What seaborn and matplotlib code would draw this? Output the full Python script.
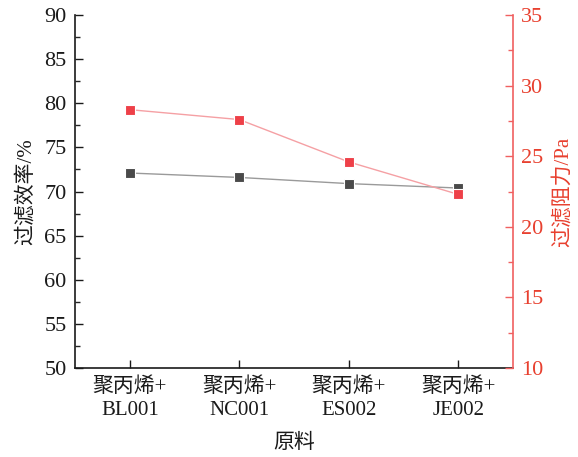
import matplotlib
matplotlib.use("Agg")
import matplotlib.pyplot as plt
from matplotlib.ticker import MultipleLocator
import seaborn as sns
import pandas as pd

# Filter materials and measured performance
materials = ["聚丙烯+\nBL001", "聚丙烯+\nNC001", "聚丙烯+\nES002", "聚丙烯+\nJE002"]
efficiency = [72.1, 71.6, 70.9, 70.4]      # 过滤效率 / %
resistance = [28.3, 27.6, 24.6, 22.3]      # 过滤阻力 / Pa

sns.set_style("ticks")
plt.rcParams["font.family"] = ["Liberation Serif", "Noto Sans CJK SC"]
plt.rcParams["axes.unicode_minus"] = False

df = pd.DataFrame({"原料": materials, "效率": efficiency, "阻力": resistance,
                   "pos": range(len(materials))})

fig = plt.figure(figsize=(5.78, 4.57), dpi=100)
ax = fig.add_axes([0.1298, 0.1947, 0.7577, 0.7723])
ax2 = ax.twinx()

dark = "#4a4a4a"
red = "#ee4048"

sns.lineplot(data=df, x="pos", y="效率", ax=ax, color="#9a9a9a", lw=1.0,
             marker="s", markersize=6.5, markerfacecolor=dark,
             markeredgecolor="white", markeredgewidth=0.8)
sns.lineplot(data=df, x="pos", y="阻力", ax=ax2, color="#f5a0a4", lw=1.0,
             marker="s", markersize=6.5, markerfacecolor=red,
             markeredgecolor="white", markeredgewidth=0.8)

ax.set_xlim(-0.5, 3.5)
ax.set_ylim(50, 90)
ax2.set_ylim(10, 35)

ax.set_xticks(df["pos"])
ax.set_xticklabels(materials, fontsize=15, linespacing=1.25)
ax.yaxis.set_major_locator(MultipleLocator(5))
ax.yaxis.set_minor_locator(MultipleLocator(2.5))
ax2.yaxis.set_major_locator(MultipleLocator(5))
ax2.yaxis.set_minor_locator(MultipleLocator(2.5))

ax.tick_params(axis="both", which="major", direction="in", length=6,
               width=1, labelsize=16, colors="#1a1a1a", pad=6)
ax.tick_params(axis="y", which="minor", direction="in", length=3.5, width=1)
ax.tick_params(axis="x", which="major", pad=7, labelsize=15)
ax2.tick_params(axis="y", which="major", direction="in", length=6, width=1,
                labelsize=16, colors="#f06060", labelcolor="#e8402f", pad=6)
ax2.tick_params(axis="y", which="minor", direction="in", length=3.5, width=1,
                colors="#f06060")

ax.set_xlabel("原料", fontsize=15, labelpad=10, color="#1a1a1a")
ax.set_ylabel("过滤效率/%", fontsize=15, labelpad=6, color="#1a1a1a")
ax2.set_ylabel("过滤阻力/Pa", fontsize=15, labelpad=7, color="#e8402f")

for a in (ax, ax2):
    a.spines["top"].set_visible(False)
ax.spines["left"].set_color("#1a1a1a")
ax.spines["bottom"].set_color("#1a1a1a")
ax.spines["right"].set_visible(False)
ax2.spines["left"].set_visible(False)
ax2.spines["bottom"].set_visible(False)
ax2.spines["right"].set_color("#f06060")
for a in (ax, ax2):
    for s in a.spines.values():
        s.set_linewidth(1.2)

fig.savefig("out.png", dpi=100)
